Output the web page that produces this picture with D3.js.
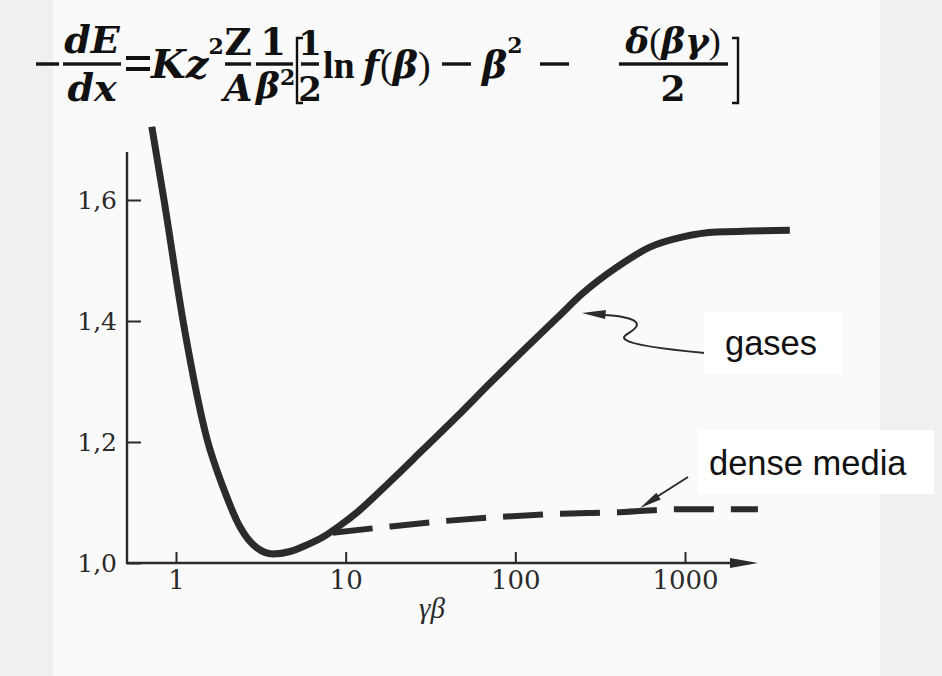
<!DOCTYPE html>
<html>
<head>
<meta charset="utf-8">
<script src="https://cdn.jsdelivr.net/npm/d3@7"></script>
<style>
  html, body { margin: 0; padding: 0; background: #f2f2f2; }
  svg { display: block; }
</style>
</head>
<body>
<svg id="chart" width="942" height="676"></svg>
<script>
// Energy loss -dE/dx (relative to minimum) versus γβ
const gammaBetaGases = [0.72, 0.85, 1.11, 1.53, 1.89, 2.38, 3.00, 3.73, 4.70, 5.92, 7.35, 9.25, 11.7, 18.2, 28.5, 45.3, 70.8, 111, 176, 250, 397, 621, 972, 1540, 4150];
const lossGases      = [1.721, 1.600, 1.394, 1.203, 1.126, 1.060, 1.025, 1.015, 1.019, 1.030, 1.043, 1.062, 1.084, 1.134, 1.187, 1.242, 1.297, 1.351, 1.405, 1.446, 1.489, 1.522, 1.539, 1.547, 1.550];

const gammaBetaDense = [8.4, 15.3, 33.6, 78.9, 171, 413, 933, 2690];
const lossDense      = [1.050, 1.058, 1.068, 1.076, 1.081, 1.084, 1.089, 1.089];

const xTicks = [1, 10, 100, 1000];
const xTickLabels = ["1", "10", "100", "1000"];
const yTicks = [1.0, 1.2, 1.4, 1.6];
const yTickLabels = ["1,0", "1,2", "1,4", "1,6"];

const xTitle = "γβ";
const seriesLabels = ["gases", "dense media"];

const svg = d3.select("#chart");
const ink = "#2b2b2b";

// page panel
svg.append("rect").attr("x", 0).attr("y", 0).attr("width", 942).attr("height", 676).attr("fill", "#f0f0f0");
svg.append("rect").attr("x", 53).attr("y", 0).attr("width", 827).attr("height", 676).attr("fill", "#fafafa");

// scales
const x = d3.scaleLog().domain([1, 1000]).range([176, 685]);
const y = d3.scaleLinear().domain([1.0, 1.6]).range([563, 200]);

const axisLeftX = 127, axisTopY = 152, axisRightX = 758, axisBottomY = y(1.0);

// y axis
const yAxis = d3.axisLeft(y)
  .tickValues(yTicks)
  .tickFormat((d, i) => yTickLabels[i])
  .tickSizeInner(-14)
  .tickSizeOuter(0)
  .tickPadding(10);
const gy = svg.append("g").attr("transform", `translate(${axisLeftX},0)`).call(yAxis);
gy.select(".domain").remove();
gy.selectAll(".tick line").attr("stroke", ink).attr("stroke-width", 2);
gy.selectAll(".tick text")
  .attr("font-family", "DejaVu Serif")
  .attr("font-size", 25)
  .attr("fill", "#2a2a2a");
svg.append("line")
  .attr("x1", axisLeftX).attr("x2", axisLeftX)
  .attr("y1", axisTopY).attr("y2", axisBottomY + 1)
  .attr("stroke", ink).attr("stroke-width", 2.4);

// x axis
const xAxis = d3.axisBottom(x)
  .tickValues(xTicks)
  .tickFormat((d, i) => xTickLabels[i])
  .tickSizeInner(-11)
  .tickSizeOuter(0)
  .tickPadding(8);
const gx = svg.append("g").attr("transform", `translate(0,${axisBottomY})`).call(xAxis);
gx.select(".domain").remove();
gx.selectAll(".tick line").attr("stroke", ink).attr("stroke-width", 2);
gx.selectAll(".tick text")
  .attr("font-family", "DejaVu Serif")
  .attr("font-size", 26)
  .attr("fill", "#2a2a2a")
  .attr("dy", "0.71em");
svg.append("line")
  .attr("x1", axisLeftX - 1).attr("x2", axisRightX - 20)
  .attr("y1", axisBottomY).attr("y2", axisBottomY)
  .attr("stroke", ink).attr("stroke-width", 2.4);
svg.append("path")
  .attr("d", `M${axisRightX},${axisBottomY} L${axisRightX - 28},${axisBottomY - 5} L${axisRightX - 28},${axisBottomY + 5} Z`)
  .attr("fill", ink);

svg.append("text")
  .attr("x", 432).attr("y", 618)
  .attr("text-anchor", "middle")
  .attr("font-family", "Liberation Serif")
  .attr("font-style", "italic")
  .attr("font-size", 29)
  .attr("fill", "#2a2a2a")
  .text(xTitle);

// curves
const line = d3.line()
  .x(d => x(d[0]))
  .y(d => y(d[1]))
  .curve(d3.curveMonotoneX);

svg.append("path")
  .datum(d3.zip(gammaBetaDense, lossDense))
  .attr("d", line)
  .attr("fill", "none")
  .attr("stroke", ink)
  .attr("stroke-width", 6)
  .attr("stroke-dasharray", "40,17");

svg.append("path")
  .datum(d3.zip(gammaBetaGases, lossGases))
  .attr("d", line)
  .attr("fill", "none")
  .attr("stroke", ink)
  .attr("stroke-width", 7);

// annotation arrows
svg.append("path")
  .attr("d", "M604,315 C625,316 641,320 636,327 C632,333 619,336 626,340 C633,345 662,349 705,353")
  .attr("fill", "none").attr("stroke", ink).attr("stroke-width", 2);
svg.append("path")
  .attr("d", "M582,313 L606,310 L605,319 Z")
  .attr("fill", ink);

svg.append("path")
  .attr("d", "M688,477 L655,498")
  .attr("fill", "none").attr("stroke", ink).attr("stroke-width", 2);
svg.append("path")
  .attr("d", "M640,508 L656.4,492.8 L660.7,499.6 Z")
  .attr("fill", ink);

// series labels on white boxes
svg.append("rect").attr("x", 704).attr("y", 312).attr("width", 138).attr("height", 62).attr("fill", "#ffffff");
svg.append("rect").attr("x", 698).attr("y", 430).attr("width", 236).attr("height", 64).attr("fill", "#ffffff");

svg.append("text")
  .attr("x", 725).attr("y", 355)
  .attr("font-family", "Liberation Sans, Arial, sans-serif")
  .attr("font-size", 34.5)
  .attr("fill", "#111")
  .text(seriesLabels[0]);
svg.append("text")
  .attr("x", 709).attr("y", 475)
  .attr("font-family", "Liberation Sans, Arial, sans-serif")
  .attr("font-size", 34.5)
  .attr("fill", "#111")
  .text(seriesLabels[1]);

// Bethe–Bloch formula
const fm = svg.append("g")
  .attr("font-family", "DejaVu Serif")
  .attr("font-weight", "bold")
  .attr("fill", "#111");

function tok(txt, cx, by, opts = {}) {
  const t = fm.append("text")
    .attr("x", cx).attr("y", by)
    .attr("text-anchor", opts.anchor || "middle")
    .attr("font-size", opts.size || 36)
    .text(txt);
  if (opts.italic) t.attr("font-style", "italic");
  if (opts.family) t.attr("font-family", opts.family);
  return t;
}
function bar(x1, x2, yy, h = 3.4) {
  fm.append("rect").attr("x", x1).attr("y", yy - h / 2).attr("width", x2 - x1).attr("height", h);
}

// leading minus
bar(36, 59, 64);
// dE / dx
tok("dE", 92, 53, { italic: true, size: 38 });
bar(63, 121, 64);
tok("dx", 92, 101, { italic: true, size: 38 });
// equals
bar(126, 150, 58, 4);
bar(126, 150, 69, 4);
// K z^2
const kz = fm.append("text").attr("x", 151).attr("y", 78).attr("font-size", 40).attr("font-style", "italic");
kz.append("tspan").text("Kz");
kz.append("tspan").attr("dy", -24).attr("font-size", 22).attr("font-style", "normal").text("2");
// Z / A
tok("Z", 238, 55, { size: 37 });
bar(225, 251, 64);
tok("A", 238, 101, { italic: true, size: 37 });
// 1 / beta^2
tok("1", 273, 55, { size: 37 });
bar(256, 293, 64);
const b2 = fm.append("text").attr("x", 256).attr("y", 98).attr("font-size", 36);
b2.append("tspan").attr("font-style", "italic").text("β");
b2.append("tspan").attr("dy", -13).attr("font-size", 22).text("2");
// opening bracket
fm.append("path").attr("d", "M303,38 L297,38 L297,103 L303,103").attr("fill", "none").attr("stroke", "#111").attr("stroke-width", 2.4);
// 1/2
tok("1", 310, 55, { size: 34 });
bar(301, 319, 64);
tok("2", 310, 101, { size: 34 });
// ln f(beta)
const lnf = fm.append("text").attr("x", 323).attr("y", 78).attr("font-size", 38);
lnf.append("tspan").attr("font-family", "Liberation Serif").text("ln");
lnf.append("tspan").attr("dx", 8).attr("font-style", "italic").text("f");
lnf.append("tspan").attr("dx", 1).attr("font-family", "Liberation Serif").attr("font-weight", "normal").text("(");
lnf.append("tspan").attr("font-style", "italic").text("β");
lnf.append("tspan").attr("font-family", "Liberation Serif").attr("font-weight", "normal").text(")");
// minus beta^2 minus
bar(442, 471, 64);
const b3 = fm.append("text").attr("x", 482).attr("y", 78).attr("font-size", 38);
b3.append("tspan").attr("font-style", "italic").text("β");
b3.append("tspan").attr("dy", -25).attr("font-size", 22).text("2");
bar(540, 569, 64);
// delta(beta gamma)/2
const dl = fm.append("text").attr("x", 673).attr("y", 53).attr("text-anchor", "middle").attr("font-size", 36);
dl.append("tspan").attr("font-style", "italic").text("δ");
dl.append("tspan").attr("font-family", "Liberation Serif").attr("font-weight", "normal").text("(");
dl.append("tspan").attr("font-style", "italic").text("βγ");
dl.append("tspan").attr("font-family", "Liberation Serif").attr("font-weight", "normal").text(")");
bar(619, 728, 64);
tok("2", 673, 101, { size: 36 });
// closing bracket
fm.append("path").attr("d", "M732,38 L738,38 L738,103 L732,103").attr("fill", "none").attr("stroke", "#111").attr("stroke-width", 2.4);
</script>
</body>
</html>
